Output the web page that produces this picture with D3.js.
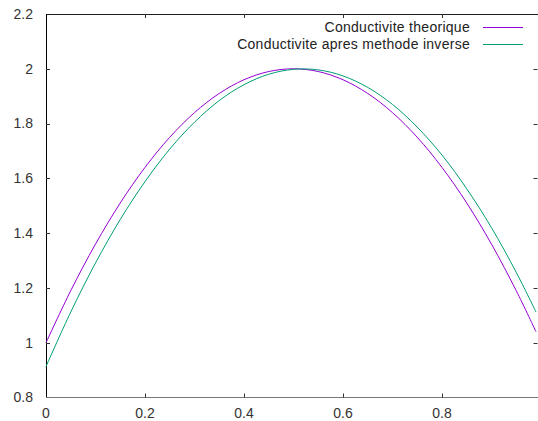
<!DOCTYPE html>
<html>
<head>
<meta charset="utf-8">
<script src="https://cdn.jsdelivr.net/npm/d3@7"></script>
<style>
  body { margin: 0; background: #fff; }
  svg { display: block; font-family: "Liberation Sans", Arial, sans-serif; }
</style>
</head>
<body>
<div id="chart"></div>
<script>
// values
let xs = [0, 0.05, 0.10, 0.15, 0.20, 0.25, 0.30, 0.35, 0.40, 0.45, 0.50,
          0.55, 0.60, 0.65, 0.70, 0.75, 0.80, 0.85, 0.90, 0.95, 0.99]
let theorique = [1.000, 1.190, 1.360, 1.510, 1.640, 1.750, 1.840, 1.910, 1.960, 1.990, 2.000,
                 1.990, 1.960, 1.910, 1.840, 1.750, 1.640, 1.510, 1.360, 1.190, 1.040]
let inverse = [0.913, 1.112, 1.291, 1.450, 1.588, 1.707, 1.805, 1.884, 1.942, 1.980, 1.998,
               1.996, 1.974, 1.932, 1.870, 1.787, 1.685, 1.562, 1.420, 1.257, 1.112]
let xTicks = [0, 0.2, 0.4, 0.6, 0.8]
let yTicks = [0.8, 1, 1.2, 1.4, 1.6, 1.8, 2, 2.2]
let seriesNames = ['Conductivite theorique', 'Conductivite apres methode inverse']
let seriesColors = ['#9400d3', '#009e73']

let width = 538, height = 421
let plotL = 46, plotT = 14, plotB = 397.5, plotR = 538.5

let svg = d3.select('#chart').append('svg')
  .attr('width', width)
  .attr('height', height)

let x = d3.scaleLinear().domain([0, 0.995]).range([plotL, plotR])
let y = d3.scaleLinear().domain([0.8, 2.2]).range([plotB, plotT])

// frame: top + left dark, bottom gray
svg.append('line').attr('x1', plotL).attr('x2', width).attr('y1', plotT + 0.5).attr('y2', plotT + 0.5)
  .attr('stroke', '#222')
svg.append('line').attr('x1', plotL + 0.5).attr('x2', plotL + 0.5).attr('y1', plotT).attr('y2', plotB)
  .attr('stroke', '#000')
svg.append('line').attr('x1', plotL).attr('x2', width).attr('y1', plotB).attr('y2', plotB)
  .attr('stroke', '#777')

// ticks (inward, mirrored)
let tickLen = 4
xTicks.forEach(t => {
  let px = Math.round(x(t)) + 0.5
  if (t !== 0) {
    svg.append('line').attr('x1', px).attr('x2', px).attr('y1', plotB).attr('y2', plotB - tickLen).attr('stroke', '#333')
    svg.append('line').attr('x1', px).attr('x2', px).attr('y1', plotT).attr('y2', plotT + tickLen).attr('stroke', '#333')
  }
  svg.append('text')
    .attr('x', x(t)).attr('y', 418)
    .attr('text-anchor', 'middle')
    .attr('font-size', 14).attr('fill', '#333')
    .text(t)
})
yTicks.forEach(t => {
  let py = Math.round(y(t)) + 0.5
  if (t !== 0.8 && t !== 2.2) {
    svg.append('line').attr('x1', plotL).attr('x2', plotL + tickLen).attr('y1', py).attr('y2', py).attr('stroke', '#333')
    svg.append('line').attr('x1', plotR - 1).attr('x2', plotR - 1 - tickLen).attr('y1', py).attr('y2', py).attr('stroke', '#333')
  }
  svg.append('text')
    .attr('x', 33).attr('y', y(t))
    .attr('dy', '0.35em')
    .attr('text-anchor', 'end')
    .attr('font-size', 14).attr('fill', '#333')
    .text(t)
})

// curves
let line = d3.line()
  .x((d, i) => x(xs[i]))
  .y(d => y(d))
  .curve(d3.curveCatmullRom)

;[theorique, inverse].forEach((vals, i) => {
  svg.append('path')
    .datum(vals)
    .attr('d', line)
    .attr('fill', 'none')
    .attr('stroke', seriesColors[i])
    .attr('stroke-width', 1)
})

// legend
seriesNames.forEach((name, i) => {
  let ly = 27 + i * 17
  svg.append('text')
    .attr('x', 470).attr('y', ly)
    .attr('dy', '0.35em')
    .attr('text-anchor', 'end')
    .attr('font-size', 14).attr('fill', '#222')
    .attr('letter-spacing', 0.28)
    .text(name)
  svg.append('line')
    .attr('x1', 483).attr('x2', 523)
    .attr('y1', ly + 0.5).attr('y2', ly + 0.5)
    .attr('stroke', seriesColors[i])
})
</script>
</body>
</html>
